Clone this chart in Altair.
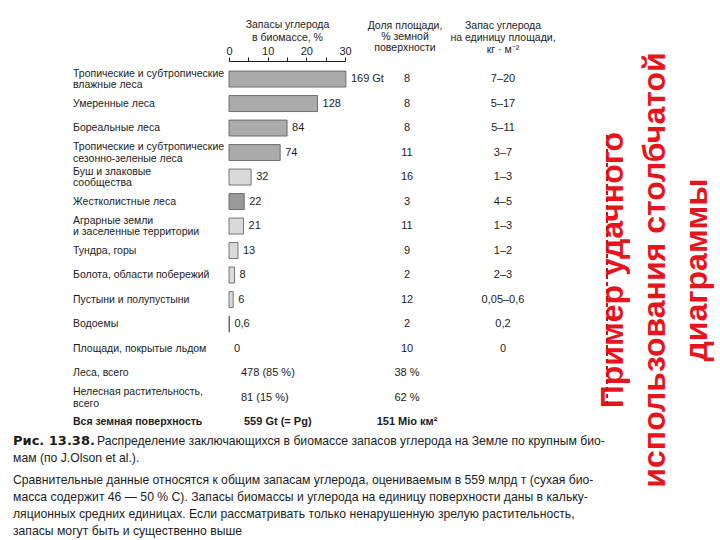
import altair as alt
import pandas as pd

# ---------------- data ----------------
row_labels = [
    "Тропические и субтропические\nвлажные леса",
    "Умеренные леса",
    "Бореальные леса",
    "Тропические и субтропические\nсезонно-зеленые леса",
    "Буш и злаковые\nсообщества",
    "Жестколистные леса",
    " Аграрные земли\nи заселенные территории",
    "Тундра, горы",
    "Болота, области побережий",
    "Пустыни и полупустыни",
    "Водоемы",
    "Площади, покрытые льдом",
    "Леса, всего",
    "Нелесная растительность,\nвсего",
]
total_label = "Вся земная поверхность"

carbon_gt = [169, 128, 84, 74, 32, 22, 21, 13, 8, 6, 0.6]
bar_shade = ["лес", "лес", "лес", "лес", "нелес", "жестколист", "нелес",
             "нелес", "нелес", "нелес", "вода"]
carbon_text = ["169 Gt", "128", "84", "74", "32", "22", "21", "13", "8", "6", "0,6", "0"]
carbon_text_gt = carbon_gt + [0]
total_gt = 559

totals_text = ["478 (85 %)", "81 (15 %)"]
total_text = "559 Gt (= Pg)"

area_share = ["8", "8", "8", "11", "16", "3", "11", "9", "2", "12", "2", "10", "38 %", "62 %"]
area_total = "151 Mio км²"

density = ["7–20", "5–17", "5–11", "3–7", "1–3", "4–5", "1–3", "1–2", "2–3",
           "0,05–0,6", "0,2", "0"]

axis_ticks = [0, 5, 10, 15, 20, 25, 30]
header_carbon = ["Запасы углерода", "в биомассе, %"]
header_area = "Доля площади,\n% земной\nповерхности"
header_density = "Запас углерода\nна единицу площади,\nкг · м⁻²"

caption_bold = "Рис. 13.38."
caption_l1 = "Распределение заключающихся в биомассе запасов углерода на Земле по крупным био-"
caption_l2 = "мам (по J.Olson et al.)."
caption_par = ("Сравнительные данные относятся к общим запасам углерода, оцениваемым в 559 млрд т (сухая био-\n"
               "масса содержит 46 — 50 % С). Запасы биомассы и углерода на единицу поверхности даны в кальку-\n"
               "ляционных средних единицах. Если рассматривать только ненарушенную зрелую растительность,\n"
               "запасы могут быть и существенно выше")

slide_title = "Пример удачного\nиспользования столбчатой\nдиаграммы"

# ---------------- tables ----------------
n_rows = len(row_labels) + 1
row_ids = list(range(n_rows))

labels_df = pd.DataFrame({"row": list(range(len(row_labels))), "label": row_labels})
labels_df["two"] = labels_df["label"].str.contains("\n")
one_df = labels_df[~labels_df["two"]]
two_df = labels_df[labels_df["two"]]

total_df = pd.DataFrame({"row": [n_rows - 1], "label": [total_label],
                         "val": [total_text], "area": [area_total]})
bars_df = pd.DataFrame({
    "row": list(range(len(carbon_gt))),
    "pct": [g / total_gt * 100 for g in carbon_gt],
    "shade": bar_shade,
})
vlab_df = pd.DataFrame({
    "row": list(range(len(carbon_text))),
    "pct": [g / total_gt * 100 for g in carbon_text_gt],
    "txt": carbon_text,
})
tot_df = pd.DataFrame({"row": [12, 13], "txt": totals_text})
area_df = pd.DataFrame({"row": list(range(len(area_share))), "txt": area_share})
dens_df = pd.DataFrame({"row": list(range(len(density))), "txt": density})

FONT = "Liberation Sans"
INK = "#1c1c1c"
FS = 10.5
TOP = 61  # top padding: the axis sits on the top edge of the plot area

yscale = alt.Scale(type="band", domain=row_ids, range=[66.8 - TOP, 434.3 - TOP],
                   paddingInner=0, paddingOuter=0)
Y = alt.Y("row:O", scale=yscale, axis=None)
xscale = alt.Scale(domain=[0, 30], range=[229, 345], zero=True, nice=False)
AX = alt.Axis(
    orient="top", values=axis_ticks,
    labelExpr="datum.value % 10 == 0 ? datum.label : ''",
    tickSize=4, tickColor=INK, domainColor=INK, tickWidth=1, domainWidth=1,
    labelFont=FONT, labelFontSize=11, labelColor=INK, labelPadding=1,
    labelFlush=False, labelOverlap=False,
    grid=False, title=header_carbon, titleFont=FONT, titleFontSize=FS,
    titleFontWeight="normal", titleColor=INK, titleLineHeight=12.5, titlePadding=3,
)
X = alt.X("pct:Q", scale=xscale, axis=AX)

bars = alt.Chart(bars_df).mark_bar(size=16, stroke="#555555", strokeWidth=0.8).encode(
    x=X,
    y=Y,
    color=alt.Color("shade:N", scale=alt.Scale(
        domain=["лес", "жестколист", "нелес", "вода"],
        range=["#ababab", "#9a9a9a", "#dadada", "#555555"]), legend=None),
)

vlabels = alt.Chart(vlab_df).mark_text(
    align="left", baseline="middle", dx=5, font=FONT, fontSize=11, color=INK
).encode(x=X, y=Y, text="txt:N")

cats1 = alt.Chart(one_df).mark_text(
    align="left", baseline="middle", font=FONT, fontSize=FS, color=INK
).encode(x=alt.value(73), y=Y, text="label:N")

cats2 = alt.Chart(two_df).mark_text(
    align="left", baseline="middle", lineBreak="\n", lineHeight=11.5, dy=-5.5,
    font=FONT, fontSize=FS, color=INK
).encode(x=alt.value(73), y=Y, text="label:N")

cat_total = alt.Chart(total_df).mark_text(
    align="left", baseline="middle", font=FONT, fontSize=FS, fontWeight="bold", color=INK
).encode(x=alt.value(73), y=Y, text="label:N")

tot_vals = alt.Chart(tot_df).mark_text(
    align="left", baseline="middle", font=FONT, fontSize=11, color=INK
).encode(x=alt.value(241), y=Y, text="txt:N")

tot_bold = alt.Chart(total_df).mark_text(
    align="left", baseline="middle", font=FONT, fontSize=11, fontWeight="bold", color=INK
).encode(x=alt.value(244), y=Y, text="val:N")

area_col = alt.Chart(area_df).mark_text(
    align="center", baseline="middle", font=FONT, fontSize=11, color=INK
).encode(x=alt.value(407), y=Y, text="txt:N")

area_tot = alt.Chart(total_df).mark_text(
    align="center", baseline="middle", font=FONT, fontSize=11, fontWeight="bold", color=INK
).encode(x=alt.value(407), y=Y, text="area:N")

dens_col = alt.Chart(dens_df).mark_text(
    align="center", baseline="middle", font=FONT, fontSize=11, color=INK
).encode(x=alt.value(503), y=Y, text="txt:N")


def note(txt, x, y, **kw):
    """Annotation text; y is the first line's centre in page pixels."""
    props = dict(font=FONT, color=INK, baseline="middle", lineBreak="\n")
    props.update(kw)
    return alt.Chart(pd.DataFrame({"t": [txt]})).mark_text(**props).encode(
        x=alt.value(x), y=alt.value(y - TOP), text="t:N")


h_area = note(header_area, 405, 26, align="center", fontSize=FS, lineHeight=11.2)
h_dens = note(header_density, 503, 26, align="center", fontSize=FS, lineHeight=12)

c0 = note(caption_bold, 13, 441, align="left", fontSize=13, fontWeight="bold",
          font="DejaVu Sans")
c1 = note(caption_l1, 97, 441, align="left", fontSize=12.2)
c2 = note(caption_l2, 13, 458, align="left", fontSize=12.2)
c3 = note(caption_par, 13, 480, align="left", fontSize=12.2, lineHeight=17)

red = note(slide_title, 613, 270, align="center", fontSize=32, fontWeight="bold",
           color="#e8141c", angle=270, lineHeight=42)

dash = alt.Chart(pd.DataFrame({"a": [0]})).mark_rule(
    color="#cc1111", strokeWidth=2, strokeDash=[4, 3]
).encode(x=alt.value(607), y=alt.value(135 - TOP), y2=alt.value(405 - TOP))

chart = alt.layer(
    bars, vlabels, cats1, cats2, cat_total, tot_vals, tot_bold, area_col, area_tot,
    dens_col, h_area, h_dens, c0, c1, c2, c3, red, dash
).properties(
    width=720, height=540 - TOP,
    padding={"top": TOP, "left": 0, "right": 0, "bottom": 0},
    autosize=alt.AutoSizeParams(type="none"),
    background="white",
).configure_view(stroke=None)

chart.save("out.html", embed_options={"renderer": "svg", "actions": False})
